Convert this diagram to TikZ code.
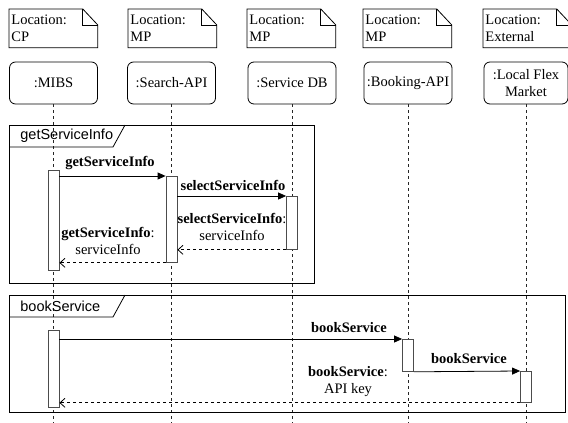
\documentclass[tikz,border=0pt]{standalone}
\usepackage{fontspec}
\setmainfont{Liberation Serif}
\newfontfamily\framesans{Liberation Sans}
\usetikzlibrary{arrows.meta,calc}
\begin{document}
\begin{tikzpicture}[x=1pt,y=-1pt,line width=0.8pt,
  every node/.style={font=\fontsize{14.5}{17}\selectfont},
  notebox/.style={anchor=north west,minimum width=88pt,minimum height=38pt,text width=84pt,inner sep=2pt,align=left},
  head/.style={draw,rounded corners=6pt,minimum width=88pt,minimum height=42pt,inner sep=1pt,align=center},
  lifeline/.style={line width=0.8pt,dash pattern=on 3pt off 3pt,black!85},
  bar/.style={draw=black!70,fill=white,minimum width=11pt,inner sep=0pt,anchor=north},
  umlframe/.style={draw,anchor=north west,inner sep=0pt},
  framelabel/.style={font=\framesans\fontsize{14.5}{17}\selectfont,anchor=west,inner sep=0pt},
  call/.style={-{Triangle[length=8pt,width=7pt]}},
  ret/.style={dash pattern=on 3pt off 3pt,-{Straight Barb[length=5pt,width=9pt]}},
  msg/.style={inner sep=0pt,align=center}]
\useasboundingbox (0,0) rectangle (568,423);
\coordinate (bot) at (0,423);

% location notes
\node[notebox] (nA) at (9,9)   {Location:\\CP};
\node[notebox] (nB) at (128,9) {Location:\\MP};
\node[notebox] (nC) at (247,9) {Location:\\MP};
\node[notebox] (nD) at (363,9) {Location:\\MP};
\node[notebox] (nE) at (483,9) {Location:\\External};
\foreach \n in {nA,nB,nC,nD,nE}{
  \draw (\n.south west) -- (\n.north west) -- ([xshift=-15pt]\n.north east)
        -- ([yshift=-16pt]\n.north east) -- (\n.south east) -- cycle;
  \draw ([xshift=-15pt]\n.north east) -- ([xshift=-15pt,yshift=-16pt]\n.north east)
        -- ([yshift=-16pt]\n.north east);
}

% lifeline heads
\node[head] (hA) at (53.5,83)  {:MIBS};
\node[head] (hB) at (171.5,83) {:Search-API};
\node[head] (hC) at (292,83)   {:Service DB};
\node[head] (hD) at (408,83)   {:Booking-API};
\node[head,minimum width=84pt] (hE) at (526,83) {:Local Flex\\Market};

% lifelines
\foreach \h in {hA,hB,hC,hD,hE}
  \draw[lifeline] (\h.south) -- (\h.south |- bot);

% combined fragments
\node[umlframe,minimum width=305pt,minimum height=158pt] (fr1) at (9,125) {};
\draw ([yshift=-22pt]fr1.north west) -- ([xshift=104pt,yshift=-22pt]fr1.north west)
      -- ([xshift=116pt]fr1.north west);
\node[framelabel] (fr1lab) at (20,136) {getServiceInfo};

\node[umlframe,minimum width=556pt,minimum height=117pt] (fr2) at (9,295) {};
\draw ([yshift=-22pt]fr2.north west) -- ([xshift=104pt,yshift=-22pt]fr2.north west)
      -- ([xshift=116pt]fr2.north west);
\node[framelabel] (fr2lab) at (20,306) {bookService};

% activation bars
\node[bar,minimum height=100pt] (aA1) at (hA.south |- 0,170) {};
\node[bar,minimum height=86pt]  (aB1) at (hB.south |- 0,176) {};
\node[bar,minimum height=53pt]  (aC1) at (hC.south |- 0,196) {};
\node[bar,minimum height=77pt]  (aA2) at (hA.south |- 0,330) {};
\node[bar,minimum height=32pt]  (aD2) at (hD.south |- 0,339) {};
\node[bar,minimum height=31pt]  (aE2) at (hE.south |- 0,371) {};

% messages: getServiceInfo
\draw[call] (aA1.east |- aB1.north west) -- (aB1.north west);
\node[msg] (m1) at (110,163) {\textbf{getServiceInfo}};
\draw[call] (aB1.east |- aC1.north west) -- (aC1.north west);
\node[msg] (m2) at (233,185) {\textbf{selectServiceInfo}};
\draw[ret] (aC1.south west) -- (aB1.east |- aC1.south west);
\node[msg] (m3) at (232,226.5) {\textbf{selectServiceInfo}:\\serviceInfo};
\draw[ret] (aB1.south west) -- (aA1.east |- aB1.south west);
\node[msg] (m4) at (108,241) {\textbf{getServiceInfo}:\\serviceInfo};

% messages: bookService
\draw[call] (aA2.east |- aD2.north west) -- (aD2.north west);
\node[msg] (m5) at (349,328) {\textbf{bookService}};
\draw[call] (aD2.south east) -- (aE2.north west);
\node[msg] (m6) at (469,359) {\textbf{bookService}};
\draw[ret] (aE2.south west) -- (aA2.east |- aE2.south west);
\node[msg] (m7) at (348,382) {\textbf{bookService}:\\API key};
\end{tikzpicture}
\end{document}
